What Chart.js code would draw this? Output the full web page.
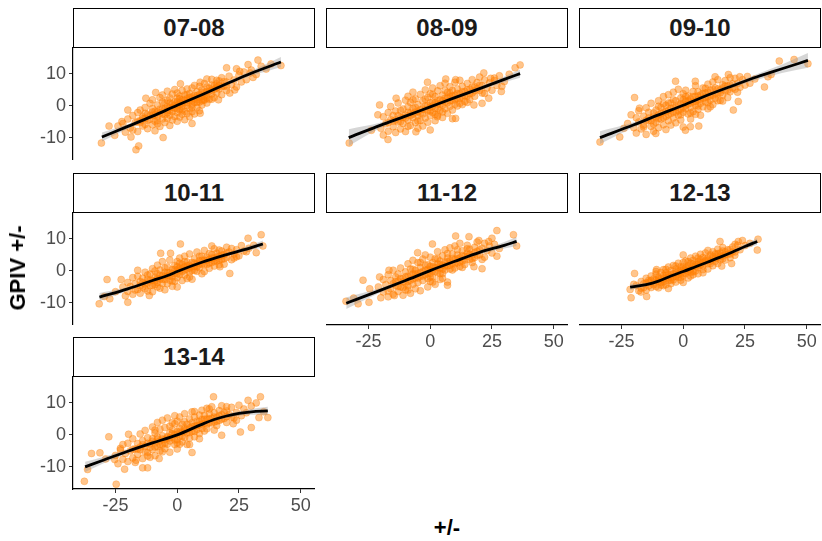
<!DOCTYPE html>
<html><head><meta charset="utf-8">
<script src="https://cdn.jsdelivr.net/npm/chart.js@4.4.1/dist/chart.umd.min.js"></script>
<style>
html,body{margin:0;padding:0;background:#fff;width:822px;height:541px;overflow:hidden;position:relative;font-family:"Liberation Sans",Arial,sans-serif}
.strip{position:absolute;box-sizing:border-box;border:1.5px solid #000;background:#fff;display:flex;align-items:center;justify-content:center;font-weight:bold;font-size:24px;color:#1a1a1a}
canvas{position:absolute}
.title{position:absolute;font-weight:bold;font-size:22px;color:#000;white-space:nowrap}
</style></head><body>
<script>
// ---------------- DATA ----------------
const seasons = ["07-08","08-09","09-10","10-11","11-12","12-13","13-14"];
const xTicks = [-25, 0, 25, 50];
const yTicks = [-10, 0, 10];
const xTitle = "+/-";
const yTitle = "GPIV +/-";

const pts_0708 = [[-22,-5.5],[-21,-8.2],[-20,-4.1],[-19,-6.9],[-18,-3.0],[-18,-7.5],[-17,-5.2],[-16,-2.1],[-16,-8.0],[-15,-4.6],[-15,-1.3],[-14,-6.3],[-14,-3.4],[-13,-0.5],[-13,-5.8],[-12,-2.6],[-12,-7.1],[-11,-4.2],[-11,0.8],[-10,-3.0],[-10,-5.9],[-10,1.9],[-9,-1.7],[-9,-4.8],[-9,-7.8],[-8,0.3],[-8,-3.3],[-8,-5.6],[-7,-2.2],[-7,2.6],[-7,-6.4],[-6,-0.9],[-6,-4.1],[-6,3.4],[-5,-2.8],[-5,0.9],[-5,-5.2],[-4,-1.5],[-4,1.8],[-4,-3.9],[-4,4.6],[-3,-0.4],[-3,-2.9],[-3,2.5],[-3,-6.1],[-2,0.6],[-2,-1.8],[-2,3.7],[-2,-4.4],[-1,1.3],[-1,-0.7],[-1,-3.3],[-1,5.1],[0,0.2],[0,2.4],[0,-2.1],[0,-4.8],[0,4.0],[1,1.0],[1,-1.2],[1,3.1],[1,-3.5],[2,1.9],[2,-0.3],[2,4.8],[2,-2.6],[3,0.9],[3,3.4],[3,-1.7],[3,-4.3],[4,2.2],[4,0.1],[4,5.3],[4,-2.4],[5,1.6],[5,3.9],[5,-0.9],[5,-3.4],[6,2.8],[6,0.4],[6,5.6],[6,-1.8],[7,3.3],[7,1.1],[7,-2.5],[7,6.4],[8,2.0],[8,4.4],[8,-0.4],[9,3.6],[9,1.2],[9,6.1],[9,-1.5],[10,2.9],[10,5.0],[10,0.3],[11,4.1],[11,1.8],[11,7.0],[12,3.3],[12,5.9],[12,0.9],[13,4.6],[13,2.1],[14,6.5],[14,3.7],[14,8.3],[15,5.2],[15,2.6],[16,6.9],[16,4.0],[17,7.8],[17,5.3],[18,3.5],[18,8.8],[19,6.2],[20,7.4],[20,4.8],[21,9.3],[22,6.6],[23,8.1],[24,5.9],[25,9.6],[26,7.5],[27,10.6],[28,8.2],[30,11.2],[32,9.8],[34,12.4],[36,11.5],[38,13.1],
[-30.7,-11.6],[-27.6,-6.3],[-25.3,-9.2],[-16.7,-13.7],[-15.6,-12.5],[-18.7,-9.7],[-5.7,-9.9],[6,-5.5],[32.7,14.3],[42,12.6],[28.7,12.9],[24,11.6],[20,11.9],[30.7,8.9],[29.6,10.3],[21.3,4],[23.3,5],[16.7,1.9],[10.7,1.9],[-8.7,4.2],[1.3,6.9],[9.3,7.4],[-12.7,2.4],[-20,-1.3],[-22.4,-4.9],[-24,-6.3],[9.3,-2.3],[16,5.6],[12,8.4],[25.3,10.8],
[-15,-5.2],[-14,-4.0],[-13,-3.9],[-12,-4.5],[-11,-3.0],[-10,-1.9],[-9,-2.8],[-8,-1.9],[-7,-1.0],[-6,-2.5],[-5,-0.9],[-4,-0.3],[-3,-1.4],[-2,-0.5],[-1,0.2],[0,-0.9],[0,1.2],[1,0.3],[2,0.8],[3,1.8],[4,1.1],[5,2.6],[6,1.6],[7,2.3],[8,3.2],[9,2.6],[10,4.1],[11,3.0],[12,4.6],[13,5.5],[14,4.9],[15,6.3],[16,5.8],[17,6.4],[18,6.0],[19,7.6],[20,6.1],[-16,-4.8],[-8,-4.5],[-4,-2.2],[2,-1.3],[6,-0.5],[8,1.1],[10,1.6],[12,2.4],[-6,1.2],[-10,-0.8],[-13,-2.3],[4,3.5],[1,2.2],[-3,0.9],[14,2.1],[16,8.0]];
const smoothX_0708 = [-30.5,-20,-10,0,10,20,30,42];
const smoothY_0708 = [-9.7,-6.4,-3.2,0.2,3.5,6.9,10.2,13.7];
const seHalf_0708 = [1.4,0.7,0.4,0.35,0.4,0.5,0.8,1.6];

const pts_0809 = [[-20,-7.0],[-19,-3.4],[-19,-9.1],[-18,-5.6],[-17,-2.1],[-17,-7.9],[-16,-4.3],[-16,-0.2],[-15,-6.5],[-15,-3.0],[-14,-8.3],[-14,-1.6],[-13,-5.0],[-13,0.9],[-12,-3.6],[-12,-7.2],[-11,-1.0],[-11,-5.5],[-10,-2.9],[-10,1.8],[-10,-8.0],[-9,-4.4],[-9,-0.3],[-9,3.0],[-8,-2.2],[-8,-6.1],[-8,1.1],[-7,-3.7],[-7,-0.8],[-7,4.3],[-6,-5.2],[-6,-1.9],[-6,2.2],[-5,-3.1],[-5,0.4],[-5,-7.0],[-4,-1.2],[-4,3.6],[-4,-4.6],[-3,-2.5],[-3,1.5],[-3,-6.3],[-2,0.0],[-2,-3.8],[-2,5.0],[-1,-1.6],[-1,2.7],[-1,-5.1],[0,-0.4],[0,3.8],[0,-3.0],[0,-7.5],[1,1.2],[1,-2.1],[1,5.6],[2,-0.8],[2,2.9],[2,-4.6],[3,0.6],[3,-2.9],[3,4.7],[4,1.9],[4,-1.4],[4,6.3],[5,0.2],[5,3.4],[5,-3.6],[6,2.4],[6,-0.9],[6,7.1],[7,1.0],[7,4.2],[7,-2.3],[8,2.9],[8,-0.1],[8,6.0],[9,1.7],[9,4.8],[9,-4.0],[10,3.3],[10,0.5],[10,7.4],[11,2.2],[11,5.3],[12,3.9],[12,0.8],[12,8.0],[13,2.7],[13,6.1],[14,4.5],[14,1.4],[15,3.1],[15,7.0],[16,5.2],[16,2.0],[17,4.0],[17,8.2],[18,6.0],[18,3.0],[19,7.3],[20,4.8],[20,9.0],[21,6.3],[22,3.9],[22,8.1],[23,5.6],[24,7.2],[25,4.9],[26,8.7],[27,6.4],[28,9.4],[30,7.6],[32,9.9],
[-32.8,-11.6],[-23.8,-7.6],[-20.5,0.3],[-21.2,-2.8],[-17.1,-10.5],[-13.8,2.4],[-5.8,-8.1],[-1.1,7.4],[6.3,8.4],[10.3,8.2],[21.7,10.3],[36.4,12.8],[34.4,11.9],[29,6.1],[28.8,4.5],[23.7,2.4],[21,0.8],[17.7,0.3],[10.3,-3.9],[2.9,-3.4],[24.5,8.6],[26,7.9],
[-15,-4.8],[-14,-4.4],[-13,-3.0],[-12,-4.9],[-11,-3.6],[-10,-3.8],[-9,-2.0],[-8,-3.0],[-7,-2.6],[-6,-0.5],[-5,-1.8],[-4,-2.3],[-3,-0.9],[-2,-1.2],[-1,0.1],[0,-1.6],[0,1.0],[1,0.0],[2,0.9],[3,1.7],[4,0.6],[5,1.6],[6,1.3],[7,2.6],[8,1.6],[9,3.2],[10,2.0],[11,3.9],[12,2.3],[13,4.4],[14,3.2],[15,5.0],[16,3.8],[17,5.9],[18,4.7],[19,5.3],[20,6.4],[-17,-5.2],[-9,-6.4],[-5,-4.7],[1,3.6],[3,-0.8],[6,4.8],[9,-1.3],[11,0.0],[-12,-1.4],[-7,1.9],[2,-2.7],[13,0.4],[5,-1.9],[-2,2.1],[15,1.1],[21,4.0],[8,4.0]];
const smoothX_0809 = [-33,-20,-10,0,10,20,30,36.4];
const smoothY_0809 = [-9.9,-6.0,-3.2,-0.3,2.6,5.4,8.3,10.1];
const seHalf_0809 = [2.6,0.8,0.45,0.4,0.45,0.6,0.9,1.3];

const pts_0910 = [[-20,-6.8],[-19,-3.7],[-19,-8.5],[-18,-5.0],[-18,-1.5],[-17,-7.2],[-16,-3.2],[-16,-6.0],[-15,-0.6],[-15,-8.9],[-14,-4.5],[-14,-2.0],[-13,-6.4],[-13,0.8],[-12,-3.4],[-12,-7.9],[-11,-1.3],[-11,-5.1],[-10,-2.8],[-10,1.6],[-10,-6.8],[-9,-4.1],[-9,-0.5],[-8,-2.0],[-8,-5.9],[-8,2.9],[-7,-3.3],[-7,0.2],[-7,-7.4],[-6,-1.4],[-6,-4.6],[-6,3.5],[-5,-2.4],[-5,0.9],[-5,-6.0],[-4,-0.6],[-4,-3.8],[-4,4.3],[-3,-1.9],[-3,1.6],[-3,-5.3],[-2,0.3],[-2,-2.9],[-2,5.2],[-1,-1.0],[-1,2.5],[-1,-4.4],[0,0.6],[0,-2.0],[0,3.8],[0,-6.6],[1,1.5],[1,-0.9],[1,4.9],[2,-2.5],[2,0.6],[2,3.1],[3,-0.4],[3,2.2],[3,-4.1],[4,1.3],[4,4.5],[4,-1.8],[5,0.2],[5,3.0],[5,6.3],[6,1.9],[6,-1.1],[6,4.4],[7,0.8],[7,3.4],[7,-2.9],[8,2.4],[8,5.6],[8,-0.3],[9,1.2],[9,4.0],[10,2.9],[10,6.8],[10,-0.9],[11,1.8],[11,4.9],[12,3.3],[12,0.4],[12,7.5],[13,2.4],[13,5.6],[14,3.8],[14,8.2],[15,1.7],[15,5.0],[16,6.6],[16,3.4],[17,7.9],[17,4.7],[18,2.6],[18,6.2],[19,8.8],[19,4.4],[20,6.9],[21,5.2],[21,8.6],[22,7.0],[23,5.8],[24,8.2],[25,6.5],[26,9.2],[27,7.1],[29,8.4],
[-33.7,-11.3],[-25.7,-9.7],[-21.1,-2.8],[-19.7,2.6],[-17.7,-0.7],[-11.1,-8.6],[-3.1,7.7],[0.9,-7.6],[4.9,7.7],[2.9,-6.5],[6.3,-6.3],[12.9,9.1],[18.3,9.8],[22.9,9.1],[20.3,-1.3],[22.3,1.4],[32.9,5.9],[35.6,9.8],[38.9,14],[44.9,14.5],[50.5,13.2],[34.3,9.1],[-22.5,-5.5],[-24,-7],
[-15,-4.5],[-14,-3.8],[-13,-4.6],[-12,-2.2],[-11,-3.6],[-10,-4.0],[-9,-2.4],[-8,-3.7],[-7,-1.7],[-6,-2.8],[-5,-0.8],[-4,-1.9],[-3,-0.4],[-2,-1.5],[-1,0.6],[0,-0.6],[0,1.9],[1,0.2],[2,1.6],[3,0.9],[4,2.9],[5,1.4],[6,3.1],[7,2.0],[8,3.9],[9,2.6],[10,4.3],[11,3.1],[12,5.1],[13,3.7],[14,5.3],[15,4.1],[16,5.6],[17,6.2],[18,4.9],[19,6.5],[20,5.6],[-16,-6.6],[-12,-5.7],[-8,0.7],[-4,1.9],[-1,-2.8],[3,-2.2],[6,0.0],[9,5.5],[11,-0.3],[14,1.6],[-6,0.9],[1,2.9],[5,-2.6],[10,1.0],[16,1.5],[22,4.3],[-10,-0.1]];
const smoothX_0910 = [-33.7,-20,-10,0,10,20,30,40,50.5];
const smoothY_0910 = [-9.9,-5.9,-2.8,0.2,3.4,6.3,9.1,11.6,14.2];
const seHalf_0910 = [2.0,0.8,0.45,0.4,0.45,0.6,0.9,1.3,2.3];

const pts_1011 = [[-22,-5.0],[-21,-7.8],[-20,-3.6],[-20,-6.4],[-19,-4.9],[-18,-2.1],[-18,-7.3],[-17,-4.0],[-16,-5.8],[-16,-1.7],[-15,-3.3],[-15,-7.0],[-14,-2.3],[-14,-5.0],[-13,-0.4],[-13,-4.1],[-12,-6.3],[-12,-2.6],[-11,-1.0],[-11,-4.6],[-10,-3.0],[-10,0.7],[-10,-6.5],[-9,-2.0],[-9,-4.3],[-8,-0.9],[-8,-3.6],[-8,1.8],[-7,-2.6],[-7,-5.4],[-7,0.3],[-6,-1.5],[-6,-3.9],[-6,2.9],[-5,-0.4],[-5,-2.7],[-5,-5.9],[-4,-1.6],[-4,1.2],[-4,-4.0],[-3,-0.6],[-3,-2.9],[-3,3.4],[-2,0.4],[-2,-1.8],[-2,-4.8],[-1,-0.9],[-1,1.7],[-1,-3.2],[0,0.3],[0,-2.1],[0,2.9],[0,-5.0],[1,0.9],[1,-1.1],[1,4.0],[2,-0.2],[2,2.1],[2,-3.0],[3,1.3],[3,-1.3],[3,4.6],[4,0.6],[4,2.8],[4,-2.4],[5,1.8],[5,-0.4],[5,5.3],[6,2.6],[6,0.2],[6,-2.6],[7,1.4],[7,3.8],[8,2.4],[8,-0.1],[8,5.9],[9,3.2],[9,1.0],[10,2.1],[10,4.6],[10,-0.9],[11,3.3],[11,6.4],[12,2.0],[12,4.3],[13,3.6],[13,0.8],[14,5.1],[14,2.6],[15,4.0],[15,6.9],[16,3.1],[16,5.5],[17,4.5],[17,1.9],[18,6.2],[18,3.6],[19,5.1],[20,7.4],[20,4.2],[21,5.9],[22,3.5],[22,7.0],[23,5.3],[24,6.6],[25,4.7],[26,7.9],[27,6.2],[29,7.1],[31,8.0],
[-31.6,-10.3],[-28.4,-2.7],[-27.3,-8.7],[-22.7,-2.7],[-20,-9.8],[-16,0.2],[-11.3,-7.7],[-2.7,5.5],[-6.7,5.5],[1.3,8.4],[14,7.8],[21.3,-0.8],[28.7,10.2],[34,11.3],[34.7,7.8],[32,5.7],[28,6],[24,4.4],[17.3,1.3],[-29.5,-8],[-25,-6.5],
[-15,-4.6],[-14,-3.6],[-13,-5.6],[-12,-3.8],[-11,-2.9],[-10,-4.5],[-9,-3.1],[-8,-2.3],[-7,-1.5],[-6,-2.6],[-5,-1.6],[-4,-0.5],[-3,-1.6],[-2,-0.7],[-1,0.5],[0,-0.9],[0,1.3],[1,0.1],[2,0.9],[3,0.3],[4,1.6],[5,0.9],[6,1.4],[7,2.5],[8,1.3],[9,2.1],[10,3.3],[11,2.1],[12,3.3],[13,2.4],[14,4.0],[15,3.0],[16,4.4],[17,3.3],[18,4.9],[19,3.8],[20,5.6],[-17,-6.0],[-12,-1.3],[-8,-5.0],[-5,0.9],[-2,-3.2],[1,2.4],[3,2.9],[5,-1.9],[7,0.1],[9,4.6],[11,-0.2],[13,5.4],[15,1.5],[17,6.5],[-9,0.0],[19,2.1],[23,4.0]];
const smoothX_1011 = [-31.5,-20,-10,-3,0,10,20,30,34.7];
const smoothY_1011 = [-8.2,-5.6,-3.0,-1.2,-0.2,2.7,5.1,7.3,8.4];
const seHalf_1011 = [1.3,0.6,0.35,0.3,0.3,0.35,0.45,0.8,1.1];

const pts_1112 = [[-21,-5.0],[-20,-8.4],[-19,-2.7],[-19,-6.6],[-18,-4.3],[-17,-8.1],[-17,-1.2],[-16,-5.6],[-16,-3.0],[-15,-7.3],[-15,0.2],[-14,-4.5],[-14,-1.9],[-13,-6.4],[-13,-3.2],[-12,0.9],[-12,-5.0],[-11,-2.4],[-11,-7.6],[-10,-3.8],[-10,-0.3],[-10,-6.0],[-9,-1.6],[-9,2.2],[-9,-4.7],[-8,-2.9],[-8,0.6],[-8,-7.0],[-7,-1.0],[-7,-4.2],[-7,3.3],[-6,-2.2],[-6,0.2],[-6,-5.6],[-5,-0.9],[-5,2.6],[-5,-3.6],[-4,1.1],[-4,-1.7],[-4,-6.2],[-3,-0.2],[-3,3.7],[-3,-3.0],[-2,1.8],[-2,-1.2],[-2,5.0],[-1,0.5],[-1,-2.4],[-1,-5.0],[0,1.4],[0,-0.8],[0,4.3],[0,-3.3],[1,2.6],[1,0.1],[1,-2.0],[2,1.1],[2,3.8],[2,-4.2],[3,2.2],[3,-0.6],[3,6.0],[4,0.9],[4,3.1],[4,-2.7],[5,1.8],[5,4.7],[5,-0.8],[6,2.7],[6,0.3],[6,6.6],[7,1.6],[7,4.0],[7,-3.5],[8,3.2],[8,0.6],[8,7.2],[9,2.3],[9,5.3],[10,3.6],[10,0.9],[10,7.8],[11,2.5],[11,5.0],[12,4.1],[12,1.4],[12,8.6],[13,3.2],[13,6.3],[14,4.6],[14,2.0],[15,5.6],[15,8.0],[16,3.6],[16,6.8],[17,5.0],[17,2.6],[18,7.4],[18,4.2],[19,6.1],[19,9.0],[20,5.0],[21,7.1],[22,4.3],[22,8.6],[23,6.4],[24,7.8],[25,5.6],[26,8.3],[28,7.0],
[-34.1,-9.5],[-29.2,-10.3],[-27.2,-2.9],[-24.8,-9.8],[-24.5,-5.6],[-20.5,-1.9],[-16.7,0.2],[-14.5,-7.7],[-5.1,5.7],[0.9,8.4],[10.3,10.9],[15.7,10.7],[19.7,9.5],[25,10.2],[27,12.6],[23.7,9.2],[21,0.7],[17.7,1.3],[27,4.6],[33.7,11.3],[35,7.8],[7,-4.5],[-31,-8.5],
[-15,-4.0],[-14,-3.3],[-13,-4.9],[-12,-2.4],[-11,-3.4],[-10,-1.8],[-9,-3.3],[-8,-1.6],[-7,-2.5],[-6,-0.9],[-5,-2.2],[-4,-0.5],[-3,-1.6],[-2,0.2],[-1,-0.9],[0,0.3],[0,-1.9],[1,1.3],[2,-0.2],[3,1.0],[4,2.0],[5,0.6],[6,1.5],[7,2.9],[8,1.8],[9,3.9],[10,2.2],[11,3.8],[12,2.8],[13,4.8],[14,3.4],[15,4.5],[16,5.2],[17,3.8],[18,5.7],[19,4.9],[20,6.6],[-17,-6.3],[-11,-5.2],[-7,0.5],[-4,2.6],[-1,1.9],[1,-3.5],[3,3.8],[5,-2.3],[7,5.4],[9,0.3],[11,6.6],[13,1.1],[15,6.9],[-9,-6.0],[21,3.6],[4,-0.9],[-13,-1.0]];
const smoothX_1112 = [-34,-20,-10,0,10,20,30,35];
const smoothY_1112 = [-10.1,-6.0,-3.0,0.1,3.0,5.8,8.0,9.2];
const seHalf_1112 = [1.8,0.7,0.4,0.35,0.4,0.6,1.0,1.4];

const pts_1213 = [[-19,-4.6],[-18,-6.2],[-17,-3.3],[-17,-5.4],[-16,-4.0],[-15,-2.3],[-15,-6.0],[-14,-4.7],[-14,-3.0],[-13,-5.2],[-13,-1.6],[-12,-3.8],[-12,-2.5],[-11,-4.9],[-11,-1.0],[-10,-3.2],[-10,-5.3],[-10,-1.9],[-9,-2.6],[-9,-0.5],[-9,-4.4],[-8,-1.5],[-8,-3.4],[-8,0.4],[-7,-2.2],[-7,-4.3],[-7,-0.6],[-6,-1.2],[-6,-3.0],[-6,1.2],[-5,-2.0],[-5,0.1],[-5,-4.0],[-4,-0.9],[-4,-2.8],[-4,1.7],[-3,-1.6],[-3,0.6],[-3,-3.5],[-2,0.0],[-2,-2.0],[-2,2.4],[-1,-0.7],[-1,1.3],[-1,-2.9],[0,0.4],[0,-1.5],[0,2.6],[0,-3.6],[1,0.9],[1,-0.8],[1,3.1],[2,1.6],[2,-0.1],[2,-2.2],[3,2.4],[3,0.5],[3,4.0],[4,1.3],[4,3.3],[4,-1.2],[5,2.0],[5,0.0],[5,4.6],[6,2.9],[6,1.0],[6,-0.9],[7,3.6],[7,1.8],[7,5.2],[8,2.6],[8,4.2],[8,0.4],[9,3.3],[9,5.6],[10,2.2],[10,4.1],[10,6.4],[11,3.0],[11,5.0],[12,3.9],[12,1.6],[13,5.3],[13,3.0],[14,4.4],[14,6.8],[15,3.5],[15,5.6],[16,4.7],[16,7.3],[17,6.0],[17,3.4],[18,5.2],[19,6.7],[19,4.1],[20,7.5],[21,5.9],[22,8.0],[23,6.6],[25,7.9],[27,8.6],
[-21.1,-8.4],[-19.7,-0.8],[-17.1,-6.6],[-14.8,-8],[-10.8,0.4],[0,5],[14.9,9.2],[22.3,9.2],[30.3,9.9],[30,6.5],[20.9,4.9],[19.6,2.3],[15.6,1.5],[-21.5,-5.8],[-20,-4.2],[-6,-5.5],[24,9.5],
[-15,-3.8],[-14,-3.6],[-13,-3.0],[-12,-4.3],[-11,-2.9],[-10,-2.4],[-9,-3.6],[-8,-2.5],[-7,-1.4],[-6,-2.2],[-5,-1.1],[-4,-1.9],[-3,-0.6],[-2,-1.1],[-1,0.2],[0,-0.7],[0,1.2],[1,0.2],[2,0.8],[3,-0.4],[4,2.2],[5,1.3],[6,2.0],[7,2.8],[8,1.6],[9,3.0],[10,3.4],[11,2.3],[12,4.6],[13,3.8],[14,5.4],[15,4.6],[16,3.8],[17,5.1],[18,6.6],[19,5.3],[20,6.0],[-16,-5.2],[-11,-0.2],[-8,-4.6],[-5,-2.9],[-3,1.5],[-1,-2.0],[2,2.9],[4,-0.3],[6,4.0],[8,-0.6],[10,0.6],[12,6.0],[14,2.3],[16,6.2],[21,8.3],[-7,0.5],[3,-1.6]];
const smoothX_1213 = [-21.5,-15,-10,-5,0,5,10,15,20,25,30];
const smoothY_1213 = [-5.1,-4.3,-3.2,-1.6,-0.2,1.3,2.8,4.3,5.9,7.6,9.2];
const seHalf_1213 = [0.9,0.5,0.35,0.3,0.28,0.28,0.3,0.35,0.45,0.7,1.0];

const pts_1314 = [[-25,-6.4],[-24,-9.0],[-23,-4.7],[-22,-7.6],[-22,-3.0],[-21,-5.8],[-20,-8.3],[-20,-2.6],[-19,-5.0],[-18,-7.2],[-18,-1.2],[-17,-4.4],[-17,-8.6],[-16,-2.7],[-16,-6.1],[-15,0.3],[-15,-4.6],[-14,-1.8],[-14,-7.4],[-13,-3.6],[-13,1.4],[-12,-5.5],[-12,-0.9],[-11,-2.8],[-11,-7.0],[-10,-1.2],[-10,2.5],[-10,-4.6],[-9,-2.5],[-9,0.6],[-9,-6.5],[-8,-3.7],[-8,-0.6],[-8,3.9],[-7,-1.9],[-7,-5.0],[-7,1.8],[-6,-3.0],[-6,-0.3],[-6,4.6],[-5,-1.4],[-5,-4.3],[-5,2.3],[-4,-0.5],[-4,-2.9],[-4,5.3],[-3,0.7],[-3,-1.9],[-3,-5.4],[-2,1.6],[-2,-0.8],[-2,3.8],[-1,0.1],[-1,-3.0],[-1,6.0],[0,1.0],[0,-1.5],[0,4.3],[0,-4.4],[1,2.1],[1,-0.4],[1,5.6],[2,0.9],[2,3.3],[2,-2.2],[3,2.0],[3,-0.8],[3,6.6],[4,3.3],[4,0.6],[4,-3.0],[5,2.2],[5,5.0],[5,-1.0],[6,3.8],[6,1.1],[6,7.2],[7,2.7],[7,5.6],[7,-0.6],[8,4.3],[8,1.7],[9,6.2],[9,3.1],[9,0.4],[10,4.8],[10,7.7],[10,2.0],[11,3.6],[11,6.1],[12,5.0],[12,1.9],[12,8.3],[13,6.6],[13,3.8],[14,5.2],[14,8.8],[15,4.0],[15,6.9],[16,5.5],[16,2.9],[17,7.6],[17,4.5],[18,6.3],[18,9.1],[19,5.1],[20,7.5],[20,3.9],[21,6.4],[22,8.6],[23,5.3],[24,7.0],[25,9.3],[26,6.0],[27,8.1],[28,6.9],[30,9.0],
[-37.6,-14.5],[-36.3,-10.8],[-34.7,-5.8],[-31.3,-5.6],[-27.7,-0.6],[-24.7,-15.4],[-25.3,-7.7],[-21.3,-10.7],[-19.7,0.2],[-16.7,-7.9],[-14,-10.3],[-12,-10.3],[-7.3,-7.4],[6,-5.5],[14.7,11.9],[20,8.8],[28.7,10.8],[32,10],[33.7,11.9],[36.7,5.4],[33.1,5.4],[30,2.3],[25.6,0.9],[22.7,3.5],[18,-0.1],[-29,-7.5],[-23,-4.2],[35,7.2],
[-15,-3.8],[-14,-3.1],[-13,-5.3],[-12,-2.6],[-11,-3.9],[-10,-2.0],[-9,-3.8],[-8,-1.4],[-7,-3.0],[-6,-1.3],[-5,-2.6],[-4,-0.9],[-3,-1.0],[-2,0.4],[-1,-1.6],[0,0.2],[0,-2.5],[1,1.0],[2,-0.4],[3,1.2],[4,1.8],[5,0.7],[6,2.7],[7,1.1],[8,2.9],[9,4.2],[10,3.3],[11,4.9],[12,3.4],[13,5.0],[14,3.7],[15,5.6],[16,4.3],[17,6.0],[18,4.9],[19,7.0],[20,5.7],[-18,-4.5],[-16,-4.4],[-12,-6.6],[-9,1.5],[-6,-5.3],[-3,2.7],[-1,3.5],[1,-2.9],[3,4.1],[5,-3.0],[7,7.3],[9,-1.2],[11,1.2],[13,8.1],[15,1.5],[22,5.5],[24,4.6]];
const smoothX_1314 = [-37.3,-30,-20,-10,0,10,15,20,25,30,36.7];
const smoothY_1314 = [-10,-7.9,-5.1,-2.5,0,3.3,4.8,5.9,6.7,7.2,7.5];
const seHalf_1314 = [1.6,1.0,0.6,0.4,0.35,0.4,0.45,0.55,0.7,0.9,1.3];

// ---------------- LAYOUT ----------------
const panelData = [
  {pts: pts_0708, sx: smoothX_0708, sy: smoothY_0708, se: seHalf_0708},
  {pts: pts_0809, sx: smoothX_0809, sy: smoothY_0809, se: seHalf_0809},
  {pts: pts_0910, sx: smoothX_0910, sy: smoothY_0910, se: seHalf_0910},
  {pts: pts_1011, sx: smoothX_1011, sy: smoothY_1011, se: seHalf_1011},
  {pts: pts_1112, sx: smoothX_1112, sy: smoothY_1112, se: seHalf_1112},
  {pts: pts_1213, sx: smoothX_1213, sy: smoothY_1213, se: seHalf_1213},
  {pts: pts_1314, sx: smoothX_1314, sy: smoothY_1314, se: seHalf_1314}
];
const colLeft = [73, 326, 579];
const rowTop = [47, 212, 376];
const PW = 242, PH = 113, STRIP = 39, YAX = 73, XAX = 44;
const X_MIN = -42.2, X_MAX = 55.8, Y_MIN = -16.9, Y_MAX = 18.4;
const FONT = "'Liberation Sans', Arial, sans-serif";

seasons.forEach((name, i) => {
  const r = Math.floor(i / 3), c = i % 3;
  const showY = c === 0;
  const showX = r === 2 || (r === 1 && c > 0);
  const d = panelData[i];

  const strip = document.createElement('div');
  strip.className = 'strip';
  strip.style.left = colLeft[c] + 'px';
  strip.style.top = (rowTop[r] - STRIP) + 'px';
  strip.style.width = PW + 'px';
  strip.style.height = (STRIP + 0.5) + 'px';
  strip.textContent = name;
  document.body.appendChild(strip);

  const cv = document.createElement('canvas');
  const w = showY ? colLeft[c] + PW : PW;
  const h = PH + (showX ? XAX : 0);
  cv.width = w; cv.height = h;
  cv.style.width = w + 'px'; cv.style.height = h + 'px';
  cv.style.left = (showY ? 0 : colLeft[c]) + 'px';
  cv.style.top = rowTop[r] + 'px';
  document.body.appendChild(cv);

  const line = d.sx.map((x, k) => ({x, y: d.sy[k]}));
  const upper = d.sx.map((x, k) => ({x, y: d.sy[k] + d.se[k]}));
  const lower = d.sx.map((x, k) => ({x, y: d.sy[k] - d.se[k]}));
  const scatter = d.pts.map(p => ({x: p[0], y: p[1]}));

  new Chart(cv, {
    type: 'scatter',
    data: {
      datasets: [
        {type: 'line', data: line, borderColor: '#000', borderWidth: 2.8, pointRadius: 0, pointHoverRadius: 0,
         cubicInterpolationMode: 'monotone', fill: false, order: 0},
        {type: 'line', data: upper, borderWidth: 0, borderColor: 'rgba(0,0,0,0)', pointRadius: 0, pointHoverRadius: 0,
         cubicInterpolationMode: 'monotone', fill: '+1', backgroundColor: 'rgba(153,153,153,0.4)', order: 1},
        {type: 'line', data: lower, borderWidth: 0, borderColor: 'rgba(0,0,0,0)', pointRadius: 0, pointHoverRadius: 0,
         cubicInterpolationMode: 'monotone', fill: false, order: 2},
        {type: 'scatter', data: scatter, pointRadius: 3.5, pointBorderWidth: 0.6,
         pointBackgroundColor: 'rgba(255,127,0,0.45)', pointBorderColor: 'rgba(255,127,0,0.5)', order: 3}
      ]
    },
    options: {
      responsive: false, animation: false, devicePixelRatio: 1,
      layout: {padding: 0, autoPadding: false},
      events: [],
      plugins: {legend: {display: false}, tooltip: {enabled: false}},
      scales: {
        x: {
          type: 'linear', min: X_MIN, max: X_MAX, display: showX,
          afterBuildTicks: s => { s.ticks = xTicks.map(v => ({value: v})); },
          afterFit: s => { if (showX) { s.height = XAX; } s.paddingLeft = 0; s.paddingRight = 0; },
          border: {display: true, color: '#000', width: 1.2},
          grid: {display: true, drawOnChartArea: false, drawTicks: true, tickLength: 4, color: '#333', lineWidth: 1},
          ticks: {color: '#4D4D4D', font: {family: FONT, size: 18}, padding: 2, maxRotation: 0, autoSkip: false}
        },
        y: {
          type: 'linear', min: Y_MIN, max: Y_MAX, display: showY,
          afterBuildTicks: s => { s.ticks = yTicks.map(v => ({value: v})); },
          afterFit: s => { if (showY) { s.width = YAX; } s.paddingTop = 0; s.paddingBottom = 0; },
          border: {display: true, color: '#000', width: 1.2},
          grid: {display: true, drawOnChartArea: false, drawTicks: true, tickLength: 4, color: '#333', lineWidth: 1},
          ticks: {color: '#4D4D4D', font: {family: FONT, size: 18}, padding: 3, autoSkip: false}
        }
      }
    }
  });
});

const xt = document.createElement('div');
xt.className = 'title'; xt.textContent = xTitle;
xt.style.left = '447px'; xt.style.top = '528px';
xt.style.transform = 'translate(-50%,-50%)';
document.body.appendChild(xt);

const yt = document.createElement('div');
yt.className = 'title'; yt.textContent = yTitle;
yt.style.left = '18px'; yt.style.top = '268px';
yt.style.transform = 'translate(-50%,-50%) rotate(-90deg)';
document.body.appendChild(yt);
</script>
</body></html>
